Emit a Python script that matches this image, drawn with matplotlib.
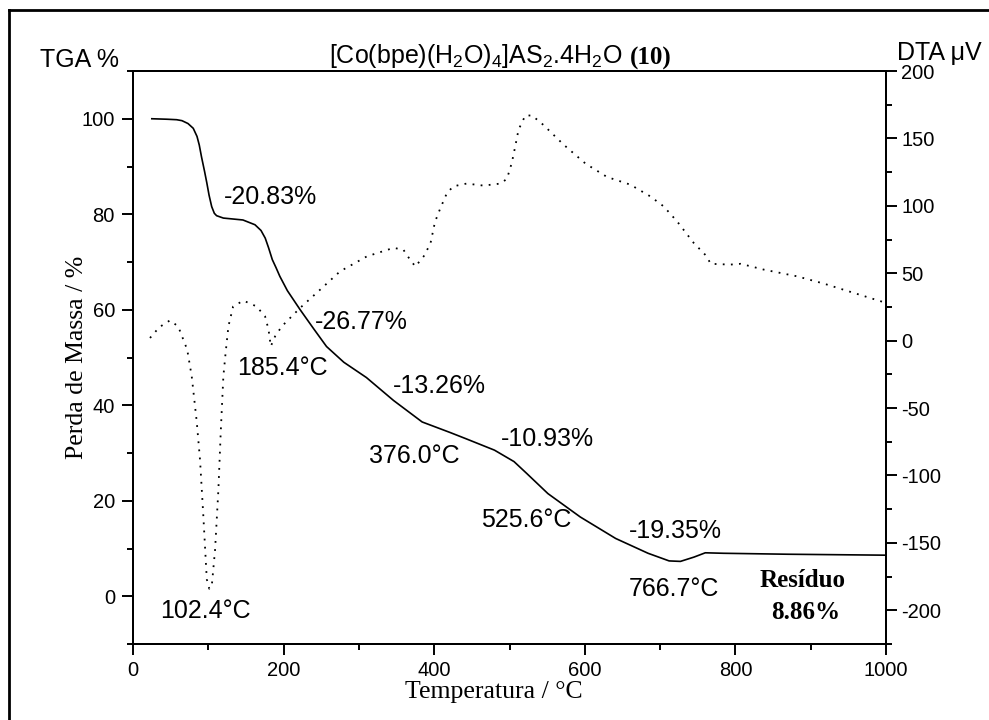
import matplotlib
matplotlib.use('Agg')
import matplotlib.pyplot as plt
from matplotlib.lines import Line2D
from matplotlib.ticker import MultipleLocator

plt.rcParams['font.family'] = ['Liberation Sans', 'DejaVu Sans']
plt.rcParams['mathtext.default'] = 'regular'
plt.rcParams['axes.unicode_minus'] = False

# TGA curve (mass %)
tga_t = [25, 45, 58, 65, 73, 80, 85, 88, 91, 95, 98, 101, 104.5, 108, 111, 120, 146,
         162, 170, 175.6, 180, 185, 190, 195, 205, 222, 240, 257, 280, 310, 346, 384,
         421, 442, 480, 506, 523, 551, 594, 641, 684, 712, 727, 745, 760, 784, 869, 1000]
tga_m = [100, 99.9, 99.8, 99.6, 99, 98, 96.3, 94.5, 92, 89, 86.6, 84, 81.6, 80.2, 79.7,
         79.2, 78.8, 77.8, 76.6, 75, 73, 70.5, 68.8, 67, 64, 60, 56, 52.3, 49, 45.8, 41,
         36.5, 34.3, 33.0, 30.6, 28.2, 25.7, 21.5, 16.6, 12.1, 9, 7.4, 7.3, 8.2, 9.1, 9.0,
         8.8, 8.6]

# DTA curve (uV)
dta_t = [22.6, 35, 49, 60, 72, 78, 84.6, 89, 93.4, 98, 101.3, 104.6, 109, 113.4, 116.5,
         120, 123, 126.7, 133, 146.6, 164, 175.4, 180, 183, 188.7, 197.6, 222, 248.5,
         275, 310.6, 346, 359, 368, 375, 386, 395, 401, 408, 417, 425.6, 443, 465.5, 488,
         496.6, 503, 507.6, 512, 521, 530, 545, 571.8, 601, 629.5, 660.5, 687, 704.7,
         722.5, 744.6, 762, 767, 793, 807, 837.6, 882, 917.5, 1000]
dta_v = [2, 10, 15, 10.6, -6.7, -26.5, -59.9, -88.3, -130, -177, -184, -182, -155,
         -110.5, -68, -26.5, -9, 10.6, 25.4, 29.7, 25.4, 18, 8.2, -4.2, 3.2, 10.6, 24.3,
         37.8, 51.4, 62.5, 68.8, 67.5, 60, 55, 62.5, 72, 88, 98, 109.6, 114.5, 116.5,
         115, 116.5, 120, 131.8, 144, 156.5, 167, 167, 160, 145.4, 131.3, 121.4, 115.7,
         107, 99.6, 88.5, 72.5, 62.5, 57, 56.4, 57, 52.7, 47.7, 42.3, 28]

# annotations: text, x, y (TGA axis data)
notes = [('-20.83%', 183, 83.6), ('-26.77%', 303.6, 57.5), ('185.4°C', 198.7, 47.7),
         ('-13.26%', 407, 44.1), ('376.0°C', 373.6, 29.3), ('-10.93%', 550, 32.9),
         ('525.6°C', 522.6, 15.9), ('-19.35%', 719.7, 13.6), ('766.7°C', 718.4, 1.5),
         ('102.4°C', 96.8, -3.1)]

fig = plt.figure(figsize=(9.89, 7.2), dpi=100)
ax = fig.add_axes([133 / 989, 1 - 644 / 720, 753 / 989, 573 / 720])
ax2 = ax.twinx()

ax.plot(tga_t, tga_m, color='black', lw=1.2)
ax2.plot(dta_t, dta_v, color='black', lw=1.3, linestyle=(0, (1, 3.5)))

ax.set_xlim(0, 1000)
ax.set_ylim(-10, 110)
ax2.set_ylim(-225, 200)

ax.xaxis.set_major_locator(MultipleLocator(200))
ax.xaxis.set_minor_locator(MultipleLocator(100))
ax.yaxis.set_minor_locator(MultipleLocator(10))
ax2.yaxis.set_minor_locator(MultipleLocator(25))
ax.set_yticks([0, 20, 40, 60, 80, 100])
ax2.set_yticks([-200, -150, -100, -50, 0, 50, 100, 150, 200])

for a in (ax, ax2):
    for s in a.spines.values():
        s.set_linewidth(1.4)
    a.tick_params(which='major', length=8, width=1.4, labelsize=14.5)
    a.tick_params(which='minor', length=4.5, width=1.4)
ax.tick_params(axis='x', which='both', top=False, pad=4)
ax.tick_params(axis='y', which='both', right=False, pad=5)
ax2.tick_params(axis='y', which='both', pad=3)

ax.set_xlabel('Temperatura / °C', family=['Liberation Serif'], fontsize=18.5)
ax.xaxis.set_label_coords(0.479, -0.064)
ax.set_ylabel('Perda de Massa / %', family=['Liberation Serif'], fontsize=18.5)
ax.yaxis.set_label_coords(-0.06, 0.5)

for txt, x, y in notes:
    ax.text(x, y, txt, fontsize=18, ha='center', va='center')
ax.text(889, 3.4, 'Resíduo', family=['Liberation Serif'], weight='bold',
        fontsize=18, ha='center', va='center')
ax.text(894, -3.4, '8.86%', family=['Liberation Serif'], weight='bold',
        fontsize=18, ha='center', va='center')

t1 = fig.text(329 / 989, 1 - 63 / 720, r'[Co(bpe)(H$_2$O)$_4$]AS$_2$.4H$_2$O',
              fontsize=18, ha='left', va='baseline')
ax.annotate('(10)', xy=(1, 0), xycoords=t1, xytext=(5, 0), textcoords='offset points',
            va='bottom', ha='left', family=['Liberation Serif'], weight='bold',
            fontsize=18, annotation_clip=False)
fig.text(40 / 989, 1 - 67 / 720, 'TGA %', fontsize=18, ha='left', va='baseline')
fig.text(982 / 989, 1 - 60 / 720, 'DTA μV', fontsize=18, ha='right', va='baseline')

# outer frame (left and top edges visible)
fig.add_artist(Line2D([9 / 989, 9 / 989], [0, 1 - 10 / 720], color='black', lw=2,
                      transform=fig.transFigure))
fig.add_artist(Line2D([9 / 989, 1], [1 - 10 / 720, 1 - 10 / 720], color='black', lw=2,
                      transform=fig.transFigure))

fig.savefig('out.png', dpi=100)
